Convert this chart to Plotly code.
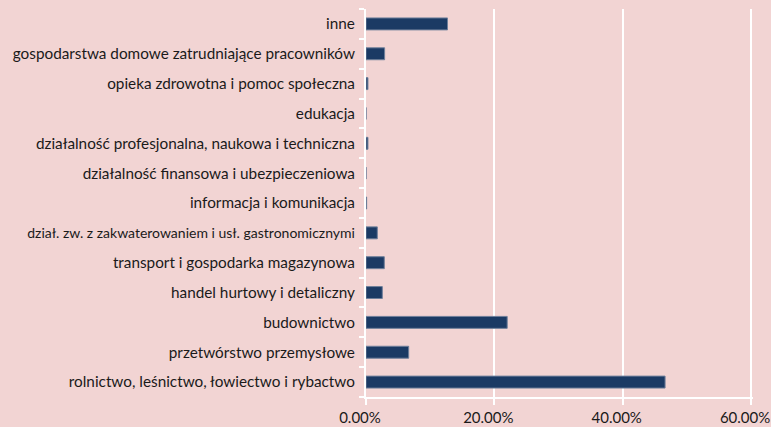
import plotly.graph_objects as go

categories = [
    "rolnictwo, leśnictwo, łowiectwo i rybactwo",
    "przetwórstwo przemysłowe",
    "budownictwo",
    "handel hurtowy i detaliczny",
    "transport i gospodarka magazynowa",
    "dział. zw. z zakwaterowaniem i usł. gastronomicznymi",
    "informacja i komunikacja",
    "działalność finansowa i ubezpieczeniowa",
    "działalność profesjonalna, naukowa i techniczna",
    "edukacja",
    "opieka zdrowotna i pomoc społeczna",
    "gospodarstwa domowe zatrudniające pracowników",
    "inne",
]
values = [0.466, 0.0665, 0.220, 0.0254, 0.0285, 0.0176, 0.001, 0.0, 0.003, 0.0, 0.003, 0.029, 0.127]
x_tickvals = [0, 0.2, 0.4, 0.6]
x_ticktext = ["0.00%", "20.00%", "40.00%", "60.00%"]

ticktext = [
    "<span style='font-size:14px'>" + c + "</span>" if c.startswith("dział. zw.") else c
    for c in categories
]

bg = "#F2D4D3"
fig = go.Figure(go.Bar(
    x=values, y=categories, orientation="h",
    marker=dict(color="#1B3A64", line=dict(color="#6E7F9A", width=1)),
))
fig.update_layout(
    width=771, height=427,
    paper_bgcolor=bg, plot_bgcolor=bg,
    margin=dict(l=366, r=18, t=9, b=30, autoexpand=False),
    bargap=0.6,
    font=dict(family="Lato", size=15.3, color="#1a1a1a"),
    showlegend=False,
)
fig.update_xaxes(
    range=[0, 0.603], tickvals=x_tickvals, ticktext=x_ticktext,
    showgrid=True, gridcolor="white", gridwidth=2,
    showline=True, linecolor="white", linewidth=2,
    ticks="outside", tickcolor="white", ticklen=6, tickwidth=2,
    zeroline=False, tickfont=dict(size=15), automargin=False,
    ticklabeloverflow="allow", ticklabelshift=-6,
)
fig.update_yaxes(
    type="category", categoryorder="array", categoryarray=categories,
    tickvals=categories, ticktext=ticktext,
    showline=True, linecolor="white", linewidth=2,
    ticks="outside", tickson="boundaries", tickcolor="white", ticklen=5, tickwidth=2,
    ticklabelstandoff=6,
    showgrid=False, automargin=False,
)
fig.write_html(
    "out.html",
    config={"displayModeBar": False},
    post_script="document.body.style.margin='0';document.body.style.overflow='hidden';",
)
